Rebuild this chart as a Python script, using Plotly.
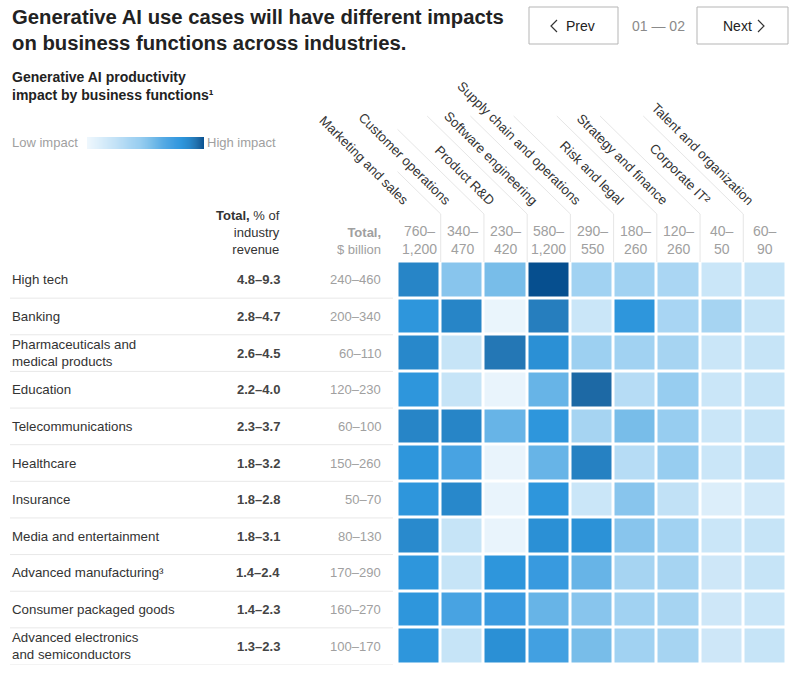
import plotly.graph_objects as go

# ---------------- data ----------------
functions = ["Marketing and sales", "Customer operations", "Product R&D",
             "Software engineering", "Supply chain and operations", "Risk and legal",
             "Strategy and finance", "Corporate IT²", "Talent and organization"]
function_totals = ["760–<br>1,200", "340–<br>470", "230–<br>420", "580–<br>1,200",
                   "290–<br>550", "180–<br>260", "120–<br>260", "40–<br>50", "60–<br>90"]

industries = ["High tech", "Banking", "Pharmaceuticals and<br>medical products", "Education",
              "Telecommunications", "Healthcare", "Insurance", "Media and entertainment",
              "Advanced manufacturing³", "Consumer packaged goods",
              "Advanced electronics<br>and semiconductors"]
pct_revenue = ["4.8–9.3", "2.8–4.7", "2.6–4.5", "2.2–4.0", "2.3–3.7", "1.8–3.2",
               "1.8–2.8", "1.8–3.1", "1.4–2.4", "1.4–2.3", "1.3–2.3"]
usd_billion = ["240–460", "200–340", "60–110", "120–230", "60–100", "150–260",
               "50–70", "80–130", "170–290", "160–270", "100–170"]

# impact (0 = low, 1 = high), estimated from cell shading
impact = [
    [0.88, 0.50, 0.55, 1.00, 0.40, 0.40, 0.35, 0.20, 0.22],  # High tech
    [0.80, 0.88, 0.02, 0.90, 0.20, 0.80, 0.36, 0.37, 0.22],  # Banking
    [0.87, 0.22, 0.92, 0.83, 0.42, 0.40, 0.37, 0.20, 0.22],  # Pharma
    [0.80, 0.22, 0.03, 0.60, 0.95, 0.30, 0.45, 0.20, 0.22],  # Education
    [0.88, 0.88, 0.60, 0.80, 0.37, 0.55, 0.45, 0.20, 0.22],  # Telecom
    [0.80, 0.70, 0.03, 0.60, 0.89, 0.30, 0.45, 0.20, 0.25],  # Healthcare
    [0.80, 0.87, 0.03, 0.80, 0.20, 0.50, 0.25, 0.10, 0.16],  # Insurance
    [0.86, 0.22, 0.03, 0.83, 0.82, 0.50, 0.40, 0.20, 0.22],  # Media
    [0.80, 0.22, 0.80, 0.76, 0.60, 0.37, 0.37, 0.18, 0.22],  # Adv. manufacturing
    [0.80, 0.70, 0.75, 0.60, 0.50, 0.40, 0.37, 0.18, 0.20],  # CPG
    [0.80, 0.22, 0.83, 0.72, 0.55, 0.40, 0.37, 0.18, 0.22],  # Adv. electronics
]

# legend scale (low -> high)
legend_steps = [0.0, 0.1, 0.2, 0.3, 0.4, 0.5, 0.6, 0.7, 0.8, 0.9, 1.0]

colorscale = [
    [0.00, "#eef7fd"], [0.15, "#d3eaf9"], [0.25, "#c1e1f6"], [0.35, "#aad6f3"],
    [0.45, "#97cdf0"], [0.55, "#78bde9"], [0.65, "#55aae4"], [0.75, "#3a9be0"],
    [0.80, "#2e96dc"], [0.87, "#2888cb"], [0.92, "#2477b5"], [0.96, "#1a64a0"],
    [1.00, "#064f8f"],
]

W, H = 800, 684
def px(x):
    return x / W
def py(y):
    return 1 - y / H

FONT = "Arial, Liberation Sans, sans-serif"
DARK = "#222222"
TXT = "#333333"
GREY = "#a0a0a0"

fig = go.Figure()
fig.add_trace(go.Heatmap(
    z=impact, x=functions, y=industries, zmin=0, zmax=1,
    colorscale=colorscale, xgap=3, ygap=3, hoverinfo="skip", showscale=False,
))
# legend gradient bar
fig.add_trace(go.Heatmap(
    z=[legend_steps], x=legend_steps, zmin=0, zmax=1, colorscale=colorscale,
    zsmooth="best", showscale=False, hoverinfo="skip", xaxis="x2", yaxis="y2",
))

ann = []
shapes = []

# title
ann.append(dict(x=px(10), y=py(4), xref="paper", yref="paper", xanchor="left", yanchor="top",
                text="<b>Generative AI use cases will have different impacts<br>on business functions across industries.</b>",
                showarrow=False, align="left", font=dict(size=20.3, color=DARK, family=FONT)))
# subtitle
ann.append(dict(x=px(10), y=py(67), xref="paper", yref="paper", xanchor="left", yanchor="top",
                text="<b>Generative AI productivity<br>impact by business functions¹</b>",
                showarrow=False, align="left", font=dict(size=14, color=DARK, family=FONT)))
# legend labels
ann.append(dict(x=px(10), y=py(143), xref="paper", yref="paper", xanchor="left", yanchor="middle",
                text="Low impact", showarrow=False, font=dict(size=13, color=GREY, family=FONT)))
ann.append(dict(x=px(205), y=py(143), xref="paper", yref="paper", xanchor="left", yanchor="middle",
                text="High impact", showarrow=False, font=dict(size=13, color=GREY, family=FONT)))

# nav buttons
for x0, x1 in [(529, 618), (697, 788)]:
    shapes.append(dict(type="rect", xref="paper", yref="paper", x0=px(x0), x1=px(x1),
                       y0=py(44), y1=py(7), line=dict(color="#b5b5b5", width=1)))
shapes.append(dict(type="path", xref="paper", yref="paper",
                   path=f"M {px(557)} {py(20)} L {px(551)} {py(26)} L {px(557)} {py(32)}",
                   line=dict(color=TXT, width=1.2)))
shapes.append(dict(type="path", xref="paper", yref="paper",
                   path=f"M {px(758)} {py(20)} L {px(764)} {py(26)} L {px(758)} {py(32)}",
                   line=dict(color=TXT, width=1.2)))
ann.append(dict(x=px(580), y=py(26), xref="paper", yref="paper", xanchor="center", yanchor="middle",
                text="Prev", showarrow=False, font=dict(size=14, color=DARK, family=FONT)))
ann.append(dict(x=px(737), y=py(26), xref="paper", yref="paper", xanchor="center", yanchor="middle",
                text="Next", showarrow=False, font=dict(size=14, color=DARK, family=FONT)))
ann.append(dict(x=px(658), y=py(26), xref="paper", yref="paper", xanchor="center", yanchor="middle",
                text="01 — 02", showarrow=False, font=dict(size=14, color="#8a8a8a", family=FONT)))

# column group headers
ann.append(dict(x=px(282), y=py(259), xref="paper", yref="paper", xanchor="right", yanchor="bottom",
                text="<b>Total,</b> % of<br>industry<br>revenue", showarrow=False, align="right",
                font=dict(size=13, color=TXT, family=FONT)))
ann.append(dict(x=px(383), y=py(259), xref="paper", yref="paper", xanchor="right", yanchor="bottom",
                text="<b>Total,</b><br>$ billion", showarrow=False, align="right",
                font=dict(size=13, color=GREY, family=FONT)))

# function headers (rotated) and totals
for i, (f, t) in enumerate(zip(functions, function_totals)):
    ann.append(dict(x=f, y=py(211), xref="x", yref="paper", xanchor="right", yanchor="bottom",
                    xshift=-5, text=f, textangle=45, showarrow=False,
                    font=dict(size=13.3, color=TXT, family=FONT)))
    ann.append(dict(x=f, y=py(259), xref="x", yref="paper", xanchor="center", yanchor="bottom",
                    text=t, showarrow=False, align="center",
                    font=dict(size=14, color=GREY, family=FONT)))

# header separators (vertical + diagonal)
unit = (786.5 - 397.5) / len(functions)
for k in range(len(functions) - 1):
    xb = k + 0.5
    shapes.append(dict(type="line", xref="x", yref="paper", x0=xb, x1=xb, y0=py(262), y1=py(214),
                       line=dict(color="#e6e6e6", width=1)))
    shapes.append(dict(type="line", xref="x", yref="paper", x0=xb, x1=xb - 100 / unit,
                       y0=py(214), y1=py(116), line=dict(color="#e6e6e6", width=1)))

# row labels, values and separators
for i, (ind, p, u) in enumerate(zip(industries, pct_revenue, usd_billion)):
    ann.append(dict(x=px(10), y=ind, xref="paper", yref="y", xanchor="left", yanchor="middle",
                    text=ind, showarrow=False, align="left",
                    font=dict(size=13.3, color=TXT, family=FONT)))
    ann.append(dict(x=px(282), y=ind, xref="paper", yref="y", xanchor="right", yanchor="middle",
                    text=f"<b>{p}</b>", showarrow=False,
                    font=dict(size=13, color="#444444", family=FONT)))
    ann.append(dict(x=px(383), y=ind, xref="paper", yref="y", xanchor="right", yanchor="middle",
                    text=u, showarrow=False, font=dict(size=13, color=GREY, family=FONT)))
    shapes.append(dict(type="line", xref="paper", yref="y", x0=px(10), x1=px(393),
                       y0=i + 0.5, y1=i + 0.5, line=dict(color="#e8e8e8", width=1)))

hidden = dict(showticklabels=False, showgrid=False, zeroline=False, ticks="", showline=False)
fig.update_layout(
    width=W, height=H, autosize=False,
    margin=dict(l=0, r=0, t=0, b=0, pad=0),
    paper_bgcolor="white", plot_bgcolor="white",
    xaxis=dict(domain=[px(397.5), px(786.5)], range=[-0.5, len(functions) - 0.5],
               autorange=False, fixedrange=True, **hidden),
    yaxis=dict(domain=[py(664.5), py(261.5)], range=[len(industries) - 0.5, -0.5],
               autorange=False, fixedrange=True, **hidden),
    xaxis2=dict(domain=[px(87), px(204)], anchor="y2", range=[0, 1], fixedrange=True, **hidden),
    yaxis2=dict(domain=[py(149), py(137)], anchor="x2", range=[-0.5, 0.5], fixedrange=True, **hidden),
    annotations=ann, shapes=shapes, showlegend=False,
)

fig.write_html("out.html", config={"displayModeBar": False},
               post_script="document.body.style.margin='0px';")
